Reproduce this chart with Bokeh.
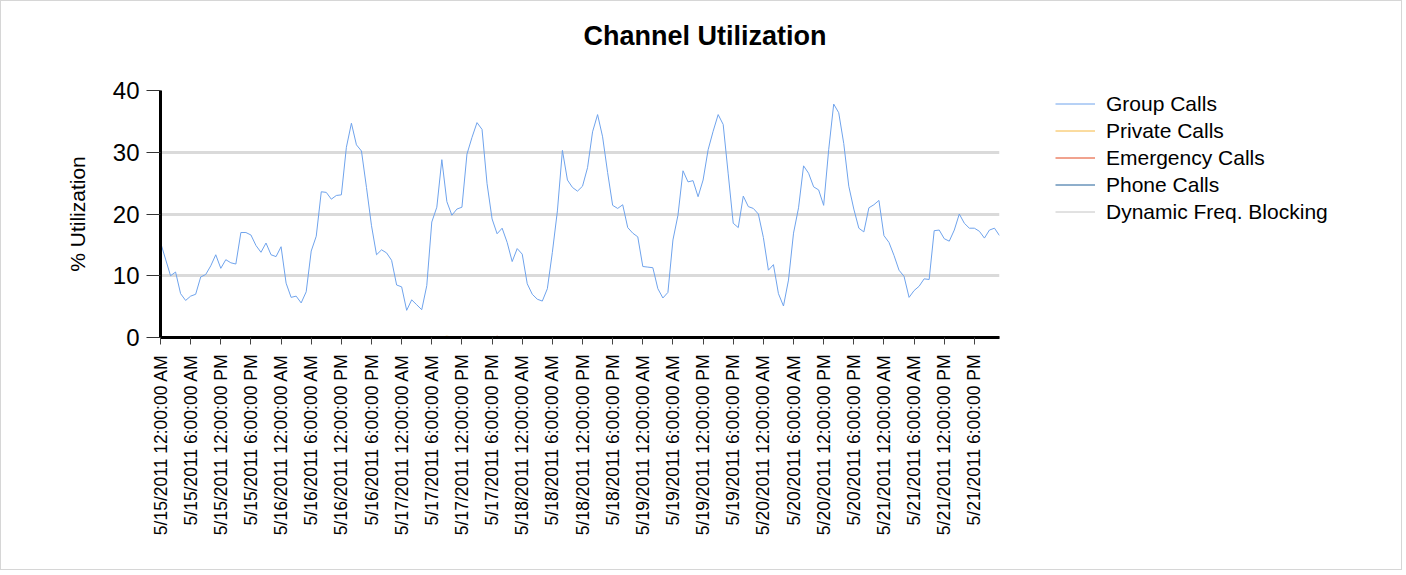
import math
from bokeh.plotting import figure
from bokeh.layouts import row
from bokeh.models import Range1d, FixedTicker, Legend, LegendItem, Title
from bokeh.embed import file_html
from bokeh.resources import INLINE

# ---------------- data (hourly, 5/15/2011 00:00 .. 5/21/2011 23:00) ----------------
hours = list(range(168))

group_calls = [
    15.4, 12.7, 10.0, 10.6, 7.1, 6.0, 6.7, 7.0, 9.8, 10.2, 11.6, 13.4,
    11.2, 12.6, 12.1, 11.9, 17.0, 17.0, 16.6, 14.9, 13.8, 15.3, 13.4, 13.1,
    14.7, 8.8, 6.5, 6.7, 5.6, 7.4, 14.0, 16.4, 23.6, 23.5, 22.4, 23.0,
    23.1, 30.8, 34.7, 31.2, 30.2, 24.3, 18.1, 13.4, 14.2, 13.7, 12.5, 8.5,
    8.2, 4.4, 6.1, 5.3, 4.5, 8.4, 18.7, 21.1, 28.8, 22.0, 19.8, 20.8,
    21.1, 29.7, 32.4, 34.8, 33.7, 24.9, 19.2, 16.8, 17.7, 15.4, 12.3, 14.4,
    13.5, 8.7, 7.0, 6.2, 5.9, 7.9, 13.8, 20.5, 30.3, 25.5, 24.3, 23.7,
    24.5, 27.5, 33.3, 36.1, 32.5, 26.7, 21.4, 20.9, 21.5, 17.8, 16.9, 16.3,
    11.5, 11.4, 11.3, 7.9, 6.4, 7.3, 15.8, 19.8, 27.0, 25.2, 25.4, 22.8,
    25.5, 30.4, 33.4, 36.1, 34.5, 26.5, 18.5, 17.8, 22.9, 21.2, 20.9, 20.0,
    16.2, 10.9, 11.8, 7.1, 5.1, 9.3, 16.9, 21.0, 27.8, 26.6, 24.4, 23.9,
    21.4, 30.4, 37.8, 36.4, 31.4, 24.5, 20.8, 17.7, 17.1, 21.0, 21.5, 22.2,
    16.5, 15.4, 13.3, 10.9, 9.9, 6.5, 7.6, 8.3, 9.5, 9.4, 17.3, 17.4,
    16.0, 15.6, 17.4, 20.0, 18.5, 17.7, 17.7, 17.2, 16.1, 17.4, 17.7, 16.5,
]

private_calls = [
    0, 0, 0, 0, 0, 0, 0, 0, 0, 0, 0, 0, 0, 0, 0, 0, 0, 0, 0, 0, 0, 0, 0, 0,
    0, 0, 0, 0, 0, 0, 0, 0, 0, 0, 0, 0, 0, 0, 0, 0, 0, 0, 0, 0, 0, 0, 0, 0,
    0, 0, 0, 0, 0, 0, 0, 0, 0.1, 0.2, 0.1, 0, 0, 0, 0, 0, 0, 0, 0, 0, 0, 0, 0, 0,
    0, 0, 0, 0, 0, 0, 0, 0, 0, 0.15, 0, 0, 0, 0, 0, 0, 0, 0, 0, 0, 0, 0, 0, 0,
    0, 0, 0, 0, 0, 0, 0, 0, 0, 0, 0, 0, 0, 0, 0, 0, 0, 0, 0, 0, 0, 0, 0, 0,
    0, 0, 0, 0, 0, 0, 0, 0, 0, 0, 0, 0, 0, 0, 0, 0, 0, 0, 0, 0, 0, 0, 0, 0,
    0, 0, 0, 0, 0, 0, 0, 0, 0, 0, 0, 0, 0, 0, 0, 0, 0, 0, 0, 0, 0, 0, 0, 0,
]

emergency_calls = [
    0, 0, 0, 0, 0, 0, 0, 0, 0, 0, 0, 0, 0, 0, 0, 0, 0, 0, 0, 0, 0, 0, 0, 0,
    0, 0, 0, 0, 0, 0, 0, 0, 0, 0, 0, 0, 0, 0, 0, 0, 0, 0, 0, 0, 0, 0, 0, 0,
    0, 0, 0, 0, 0, 0, 0, 0, 0, 0, 0, 0, 0, 0, 0, 0, 0, 0, 0, 0.2, 0, 0, 0, 0,
    0, 0, 0, 0, 0, 0, 0, 0, 0, 0, 0, 0, 0, 0, 0, 0, 0, 0, 0, 0, 0, 0, 0, 0,
    0, 0, 0, 0, 0, 0, 0, 0, 0, 0, 0, 0, 0, 0, 0, 0, 0, 0, 0, 0, 0, 0, 0, 0,
    0, 0, 0, 0, 0, 0, 0, 0, 0, 0, 0, 0, 0, 0, 0, 0, 0, 0, 0, 0, 0, 0, 0, 0,
    0, 0, 0, 0, 0, 0, 0, 0, 0, 0, 0, 0, 0, 0, 0, 0, 0, 0, 0, 0, 0, 0, 0, 0,
]

phone_calls = [
    0, 0, 0, 0, 0, 0, 0, 0, 0, 0, 0, 0, 0, 0, 0, 0, 0, 0, 0, 0, 0, 0, 0, 0,
    0, 0, 0, 0, 0, 0, 0, 0, 0, 0, 0, 0, 0, 0, 0, 0, 0, 0, 0, 0, 0, 0, 0, 0,
    0, 0, 0, 0, 0, 0, 0, 0, 0, 0, 0, 0, 0, 0, 0, 0, 0, 0, 0, 0, 0, 0, 0, 0,
    0, 0, 0, 0, 0, 0, 0, 0, 0, 0, 0, 0, 0, 0, 0, 0, 0, 0, 0, 0, 0, 0, 0, 0,
    0, 0, 0, 0, 0, 0, 0, 0, 0, 0, 0, 0, 0, 0, 0, 0, 0, 0, 0, 0, 0, 0, 0, 0,
    0, 0, 0, 0, 0, 0, 0, 0, 0, 0, 0, 0, 0, 0, 0, 0, 0, 0, 0, 0, 0, 0, 0, 0,
    0, 0, 0, 0, 0, 0, 0, 0, 0, 0, 0, 0, 0, 0, 0, 0, 0, 0, 0, 0, 0, 0, 0, 0,
]

dynamic_blocking = [
    0, 0, 0, 0, 0, 0, 0, 0, 0, 0, 0, 0, 0, 0, 0, 0, 0, 0, 0, 0, 0, 0, 0, 0,
    0, 0, 0, 0, 0, 0, 0, 0, 0, 0, 0, 0, 0, 0, 0, 0, 0, 0, 0, 0, 0, 0, 0, 0,
    0, 0, 0, 0, 0, 0, 0, 0, 0, 0, 0, 0, 0, 0, 0, 0, 0, 0, 0, 0, 0, 0, 0, 0,
    0, 0, 0, 0, 0, 0, 0, 0, 0, 0, 0, 0, 0, 0, 0, 0, 0, 0, 0, 0, 0, 0, 0, 0,
    0, 0, 0, 0, 0, 0, 0, 0, 0, 0, 0, 0, 0, 0, 0, 0, 0, 0, 0, 0, 0, 0, 0, 0,
    0, 0, 0, 0, 0, 0, 0, 0, 0, 0, 0, 0, 0, 0, 0, 0, 0, 0, 0, 0, 0, 0, 0, 0,
    0, 0, 0, 0, 0, 0, 0, 0, 0, 0, 0, 0, 0, 0, 0, 0, 0, 0, 0, 0, 0, 0, 0, 0,
]

series_names = ["Group Calls", "Private Calls", "Emergency Calls", "Phone Calls",
                "Dynamic Freq. Blocking"]

tick_hours = [0, 6, 12, 18, 24, 30, 36, 42, 48, 54, 60, 66, 72, 78, 84, 90, 96,
              102, 108, 114, 120, 126, 132, 138, 144, 150, 156, 162]
tick_labels = [
    "5/15/2011 12:00:00 AM", "5/15/2011 6:00:00 AM", "5/15/2011 12:00:00 PM", "5/15/2011 6:00:00 PM",
    "5/16/2011 12:00:00 AM", "5/16/2011 6:00:00 AM", "5/16/2011 12:00:00 PM", "5/16/2011 6:00:00 PM",
    "5/17/2011 12:00:00 AM", "5/17/2011 6:00:00 AM", "5/17/2011 12:00:00 PM", "5/17/2011 6:00:00 PM",
    "5/18/2011 12:00:00 AM", "5/18/2011 6:00:00 AM", "5/18/2011 12:00:00 PM", "5/18/2011 6:00:00 PM",
    "5/19/2011 12:00:00 AM", "5/19/2011 6:00:00 AM", "5/19/2011 12:00:00 PM", "5/19/2011 6:00:00 PM",
    "5/20/2011 12:00:00 AM", "5/20/2011 6:00:00 AM", "5/20/2011 12:00:00 PM", "5/20/2011 6:00:00 PM",
    "5/21/2011 12:00:00 AM", "5/21/2011 6:00:00 AM", "5/21/2011 12:00:00 PM", "5/21/2011 6:00:00 PM",
]

# ---------------- styling ----------------
FONT = "Liberation Sans"
colors = ["#6fa3ec", "#f6b840", "#e2461f", "#1f5f98", "#c4c4c4"]
H = 568
all_series = [group_calls, private_calls, emergency_calls, phone_calls, dynamic_blocking]

# ---------------- main chart ----------------
p = figure(
    width=1008, height=H,
    output_backend="svg", toolbar_location=None,
    x_range=Range1d(0, 167), y_range=Range1d(0, 40),
    min_border_left=159, min_border_right=10,
    min_border_top=89, min_border_bottom=232,
    background_fill_color="white", border_fill_color="white",
)
p.outline_line_color = None

# spacer between the frame and the title (pushes the title upwards)
p.add_layout(Title(text=" ", text_font_size="2px", standoff=36), "above")

p.title.text = "Channel Utilization"
p.title.text_font = FONT
p.title.text_font_size = "27px"
p.title.text_font_style = "bold"
p.title.text_color = "black"
p.title.align = "left"
p.title.offset = 423
p.title.standoff = 0
p.title.vertical_align = "bottom"

for ys, c in zip(all_series, colors):
    p.line(hours, ys, line_color=c, line_width=1)

# Grid
p.xgrid.grid_line_color = None
p.ygrid.grid_line_color = "#dadada"
p.ygrid.grid_line_width = 3
p.ygrid.ticker = FixedTicker(ticks=[10, 20, 30, 40])

# Y axis
p.yaxis.ticker = FixedTicker(ticks=[0, 10, 20, 30, 40])
p.yaxis.axis_line_color = "black"
p.yaxis.axis_line_width = 3
p.yaxis.major_tick_line_color = "#333333"
p.yaxis.major_tick_out = 14
p.yaxis.major_tick_in = 0
p.yaxis.minor_tick_line_color = None
p.yaxis.major_label_text_font = FONT
p.yaxis.major_label_text_font_size = "24px"
p.yaxis.major_label_text_color = "black"
p.yaxis.major_label_standoff = 7
p.yaxis.axis_label = "% Utilization"
p.yaxis.axis_label_text_font = FONT
p.yaxis.axis_label_text_font_size = "21px"
p.yaxis.axis_label_text_font_style = "normal"
p.yaxis.axis_label_text_color = "black"
p.yaxis.axis_label_standoff = 21

# X axis
p.xaxis.ticker = FixedTicker(ticks=tick_hours)
p.xaxis.major_label_overrides = {h: lab for h, lab in zip(tick_hours, tick_labels)}
p.xaxis.major_label_orientation = math.pi / 2
p.xaxis.axis_line_color = "black"
p.xaxis.axis_line_width = 3
p.xaxis.major_tick_line_color = "#444444"
p.xaxis.major_tick_out = 7
p.xaxis.major_tick_in = 0
p.xaxis.minor_tick_line_color = None
p.xaxis.major_label_text_font = FONT
p.xaxis.major_label_text_font_size = "17.5px"
p.xaxis.major_label_text_color = "black"
p.xaxis.major_label_standoff = 10

# ---------------- legend panel ----------------
# same series drawn again, but outside this panel's visible range (legend only)
p2 = figure(
    width=392, height=H,
    output_backend="svg", toolbar_location=None,
    x_range=Range1d(0, 167), y_range=Range1d(-20, -10),
    x_axis_type=None, y_axis_type=None,
    min_border_left=46, min_border_right=0, min_border_top=55, min_border_bottom=0,
    background_fill_color="white", border_fill_color="white",
)
p2.outline_line_color = None
p2.grid.visible = False

legend_renderers = []
for ys, c in zip(all_series, colors):
    legend_renderers.append(p2.line(hours, ys, line_color=c, line_width=1))

legend = Legend(
    items=[LegendItem(label=n, renderers=[r]) for n, r in zip(series_names, legend_renderers)],
    location="top_left",
    orientation="vertical",
    padding=0, spacing=0, margin=0,
    glyph_width=40, glyph_height=27, label_height=27,
    label_standoff=11,
    label_text_font=FONT, label_text_font_size="21px", label_text_color="black",
    border_line_color=None, background_fill_alpha=0,
)
p2.add_layout(legend)

layout = row(p, p2, styles={"border": "1px solid #d6d6d6"})

open("out.html", "w").write(file_html(layout, INLINE))
